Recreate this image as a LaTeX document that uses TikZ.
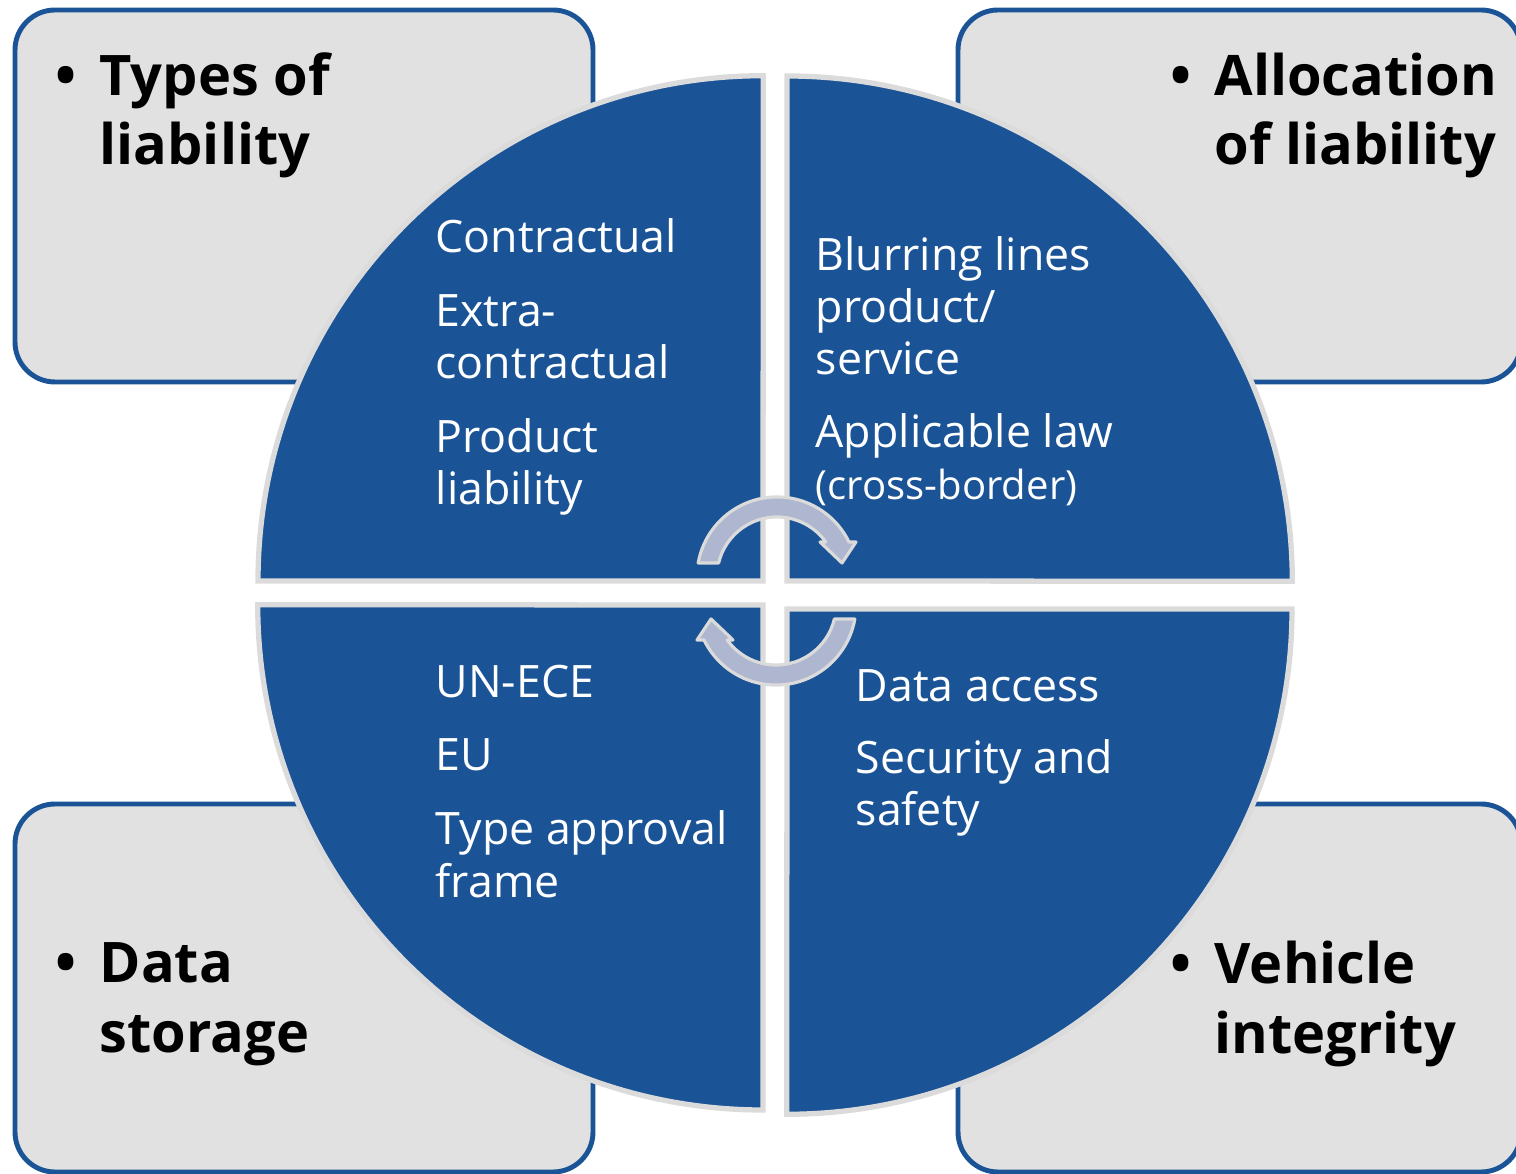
\documentclass[tikz,border=0pt]{standalone}
\usepackage{fontspec}
\setmainfont{Open Sans}
\usetikzlibrary{calc}

\definecolor{quadblue}{RGB}{26,83,150}
\definecolor{boxgray}{RGB}{225,225,225}
\definecolor{rimgray}{RGB}{219,219,219}
\definecolor{turnfill}{RGB}{174,183,207}

\begin{document}
\begin{tikzpicture}[x=0.01cm, y=-0.01cm,
    sidebox/.style={draw=quadblue, line width=1.4pt, fill=boxgray, rounded corners=0.4cm},
    quarter/.style={draw=rimgray, line width=1.5pt, fill=quadblue},
    item/.style={anchor=base west, inner sep=0pt, align=left, text=white, font=\fontsize{12.7}{14.8}\selectfont},
    heading/.style={anchor=base west, inner sep=0pt, align=left, font=\bfseries\fontsize{15.9}{19.9}\selectfont},
    turn/.style={draw=rimgray, line width=0.9pt, fill=turnfill, line join=round}]

    \useasboundingbox (0,0) rectangle (1516,1174);

    % corner boxes
    \draw[sidebox] (15,10) rectangle (593,382);
    \draw[sidebox] (958,10) rectangle (1521,382);
    \draw[sidebox] (15,804) rectangle (593,1172);
    \draw[sidebox] (958,804) rectangle (1521,1172);

    % four quarters of the disc
    \draw[quarter] (763,581) -- (258,581) arc[start angle=180, end angle=90, radius=5.05cm] -- cycle;
    \draw[quarter] (787,581) -- (787,76) arc[start angle=90, end angle=0, radius=5.05cm] -- cycle;
    \draw[quarter] (763,605) -- (763,1110) arc[start angle=270, end angle=180, radius=5.05cm] -- cycle;
    \draw[quarter] (787,609) -- (1292,609) arc[start angle=0, end angle=-90, radius=5.05cm] -- cycle;

    % turning arrows
    \coordinate (hubtop) at (777,577);
    \coordinate (hubbot) at (776,605);
    \draw[turn] ($(hubtop)+(169.9:0.8cm)$) arc[start angle=169.9, end angle=25.9, radius=0.8cm]
        -- (856,542) -- (842,563) -- (820,542)
        -- ($(hubtop)+(35.7:0.6cm)$) arc[start angle=35.7, end angle=166.5, radius=0.6cm] -- cycle;
    \draw[turn] ($(hubbot)+(349.9:0.8cm)$) arc[start angle=349.9, end angle=205.9, radius=0.8cm]
        -- (697,640) -- (711,619) -- (733,640)
        -- ($(hubbot)+(215.7:0.6cm)$) arc[start angle=215.7, end angle=346.5, radius=0.6cm] -- cycle;

    % headings in the boxes (anchored on their last line)
    \node[heading] (types) at (99,165) {\llap{\textbullet\hspace{6.5pt}}Types of\\liability};
    \node[heading] (alloc) at (1214,165) {\llap{\textbullet\hspace{6.5pt}}Allocation\\of liability};
    \node[heading] (storage) at (99,1052) {\llap{\textbullet\hspace{6.5pt}}Data\\storage};
    \node[heading] (integrity) at (1214,1053) {\llap{\textbullet\hspace{6.5pt}}Vehicle\\integrity};

    % items in the quarters
    \node[item] (contract) at (435,253) {Contractual};
    \node[item] (extra) at (435,379) {Extra-\\contractual};
    \node[item] (product) at (435,505) {Product\\liability};
    \node[item] (blurring) at (815,375) {Blurring lines\\product/\\service};
    \node[item] (lawapp) at (815,500) {Applicable law\\{\fontsize{11.4}{14.4}\selectfont(cross-border)}};
    \node[item] (unece) at (435,698) {UN-ECE};
    \node[item] (eu) at (435,771) {EU};
    \node[item] (typeapp) at (435,897) {Type approval\\frame};
    \node[item] (dataacc) at (855,702) {Data access};
    \node[item] (security) at (855,826) {Security and\\safety};

\end{tikzpicture}
\end{document}
